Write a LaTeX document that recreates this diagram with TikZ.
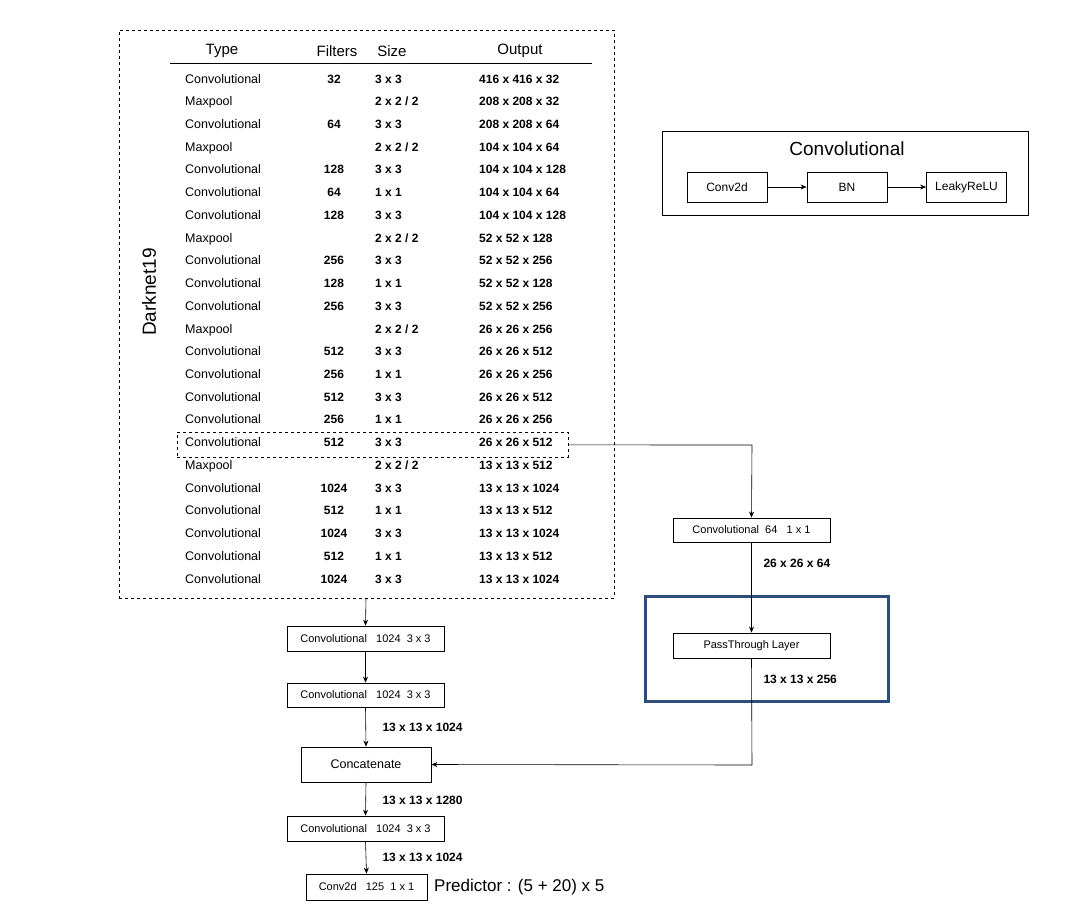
\documentclass[tikz,border=0pt]{standalone}
\usepackage{fontspec}
\setmainfont{Liberation Sans}
\usetikzlibrary{arrows.meta}
\begin{document}
\begin{tikzpicture}[x=1pt,y=-1pt,
  box/.style={draw,thick,inner sep=0pt,font=\fontsize{11}{13}\selectfont},
  arr/.style={-{Stealth[length=6pt,width=5pt]},semithick},
  lbl/.style={font=\bfseries\fontsize{12}{14}\selectfont,anchor=west},
  cell/.style={font=\fontsize{12.5}{14}\selectfont,anchor=west,inner sep=0pt,text height=9pt,text depth=3pt},
  bcell/.style={font=\bfseries\fontsize{12}{14}\selectfont,inner sep=0pt,text height=9pt,text depth=3pt}]
\useasboundingbox (0,0) rectangle (1088,916);
\fill[white] (0,0) rectangle (1088,916);
% Darknet box
\node[draw,dashed,thick,minimum width=495pt,minimum height=568pt,anchor=north west,inner sep=0pt] (dark) at (119,30) {};
\node[rotate=90,font=\fontsize{19}{22}\selectfont] (dlab) at (149,292) {Darknet19};
\node[font=\fontsize{15}{17}\selectfont] (hT) at (222,51) {Type};
\node[font=\fontsize{15}{17}\selectfont] (hF) at (337,51) {Filters};
\node[font=\fontsize{15}{17}\selectfont] (hS) at (392,51) {Size};
\node[font=\fontsize{15}{17}\selectfont] (hO) at (520,51) {Output};
\draw[thick] (170,63) -- (592,63);
\def\rows{Convolutional/32/3 x 3/416 x 416 x 32,
Maxpool//{2 x 2 / 2}/208 x 208 x 32,
Convolutional/64/3 x 3/208 x 208 x 64,
Maxpool//{2 x 2 / 2}/104 x 104 x 64,
Convolutional/128/3 x 3/104 x 104 x 128,
Convolutional/64/1 x 1/104 x 104 x 64,
Convolutional/128/3 x 3/104 x 104 x 128,
Maxpool//{2 x 2 / 2}/52 x 52 x 128,
Convolutional/256/3 x 3/52 x 52 x 256,
Convolutional/128/1 x 1/52 x 52 x 128,
Convolutional/256/3 x 3/52 x 52 x 256,
Maxpool//{2 x 2 / 2}/26 x 26 x 256,
Convolutional/512/3 x 3/26 x 26 x 512,
Convolutional/256/1 x 1/26 x 26 x 256,
Convolutional/512/3 x 3/26 x 26 x 512,
Convolutional/256/1 x 1/26 x 26 x 256,
Convolutional/512/3 x 3/26 x 26 x 512,
Maxpool//{2 x 2 / 2}/13 x 13 x 512,
Convolutional/1024/3 x 3/13 x 13 x 1024,
Convolutional/512/1 x 1/13 x 13 x 512,
Convolutional/1024/3 x 3/13 x 13 x 1024,
Convolutional/512/1 x 1/13 x 13 x 512,
Convolutional/1024/3 x 3/13 x 13 x 1024}
\foreach \t/\f/\s/\o [count=\i] in \rows {
  \pgfmathsetmacro\yy{80+(\i-1)*22.73}
  \node[cell] (t\i) at (185,\yy) {\t};
  \node[bcell] (f\i) at (334,\yy) {\f};
  \node[cell,font=\bfseries\fontsize{12}{14}\selectfont] (s\i) at (375,\yy) {\s};
  \node[cell,font=\bfseries\fontsize{12}{14}\selectfont] (o\i) at (479,\yy) {\o};
}
\node[draw,dashed,thick,minimum width=391pt,minimum height=25pt,anchor=north west,inner sep=0pt] (hl) at (177,432) {};
% right branch
\node[box,minimum width=157pt,minimum height=24pt] (c64) at (751.5,530) {Convolutional\ \ 64\ \ \ 1 x 1};
\node[box,minimum width=157pt,minimum height=25pt] (pt) at (751.5,645.5) {PassThrough Layer};
\draw[line width=3pt,color={rgb,255:red,46;green,78;blue,122}] (645,596) rectangle (888,701);
\coordinate (hr) at (752,445);
\draw[arr] (hl.east) -- (hr) -- (c64.north);
\draw[arr] (c64.south) -- (pt.north);
\node[lbl] (l64) at (760,563) {26 x 26 x 64};
\node[lbl] (l256) at (760,679) {13 x 13 x 256};
% left column
\node[box,minimum width=157pt,minimum height=25pt] (k1) at (365.5,638.5) {Convolutional\ \ \ 1024\ \ 3 x 3};
\node[box,minimum width=157pt,minimum height=24pt] (k2) at (365.5,695) {Convolutional\ \ \ 1024\ \ 3 x 3};
\node[box,minimum width=130pt,minimum height=35pt,font=\fontsize{12.5}{14}\selectfont] (cat) at (366,764.5) {Concatenate};
\node[box,minimum width=157pt,minimum height=25pt] (k3) at (365.5,828.5) {Convolutional\ \ \ 1024\ \ 3 x 3};
\node[box,minimum width=121pt,minimum height=26pt] (k4) at (366.5,887) {Conv2d\ \ \ 125\ \ 1 x 1};
\coordinate (dk) at (366,598);
\draw[arr] (dk) -- (k1.north);
\draw[arr] (k1.south) -- (k2.north);
\draw[arr] (k2.south) -- (cat.north);
\draw[arr] (cat.south) -- (k3.north);
\draw[arr] (k3.south) -- (k4.north);
\coordinate (pc) at (752,765);
\draw[arr] (pt.south) -- (pc) -- (cat.east);
\node[lbl] (a1) at (379,727) {13 x 13 x 1024};
\node[lbl] (a2) at (379,800) {13 x 13 x 1280};
\node[lbl] (a3) at (379,857) {13 x 13 x 1024};
\node[anchor=west,font=\fontsize{17}{19}\selectfont,inner sep=0pt] (pred) at (434,887) {Predictor : (5 + 20) x 5};
% Convolutional legend
\node[draw,thick,minimum width=366pt,minimum height=84pt,anchor=north west,inner sep=0pt] (leg) at (662,131) {};
\node[font=\fontsize{19}{22}\selectfont] (legt) at (847,149) {Convolutional};
\node[box,minimum width=80pt,minimum height=30pt,font=\fontsize{12}{14}\selectfont] (cv) at (727,187) {Conv2d};
\node[box,minimum width=80pt,minimum height=30pt,font=\fontsize{12}{14}\selectfont] (bn) at (847,187) {BN};
\node[box,minimum width=80pt,minimum height=30pt,font=\fontsize{12}{14}\selectfont] (lr) at (966.5,187) {LeakyReLU};
\draw[arr] (cv) -- (bn);
\draw[arr] (bn) -- (lr);
\end{tikzpicture}
\end{document}
